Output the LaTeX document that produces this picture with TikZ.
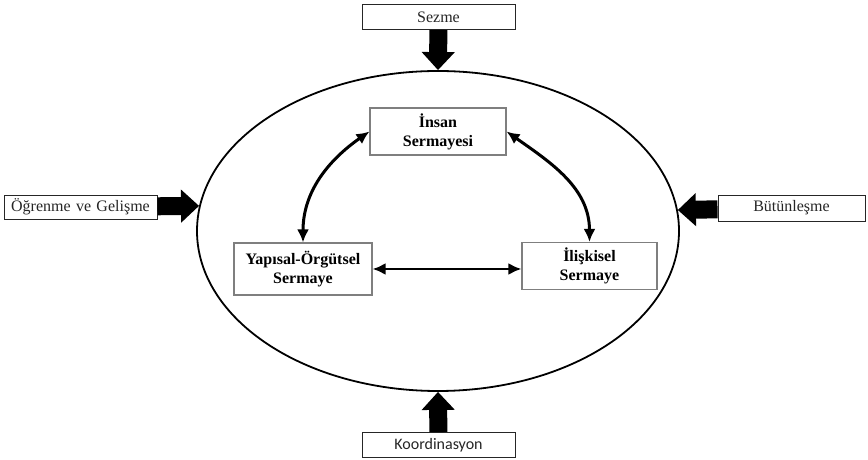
\documentclass[tikz,border=0pt]{standalone}
\usepackage{fontspec}
\setmainfont{Liberation Serif}
\newfontfamily\calibrifont{Carlito}
\usepackage{xcolor}
\usepackage{tikz}
\usetikzlibrary{arrows.meta,positioning,shapes.geometric}
\definecolor{icborder}{HTML}{7F7F7F}
\definecolor{icdark}{HTML}{262626}
\tikzset{
  factor/.style={draw=icdark,line width=0.9pt,fill=white,inner sep=0pt,minimum height=25pt,text width=150pt,align=center,font=\fontsize{16}{19}\selectfont,text=icdark},
  capital/.style={draw=icborder,line width=1.1pt,fill=white,inner sep=0pt,align=center,font=\fontsize{16}{19}\selectfont\bfseries,text=black},
  blockarr/.style={draw=black,line width=18pt,-{Triangle[length=18pt,width=32pt]}},
  link/.style={{Latex[length=13pt,width=12pt]}-{Latex[length=13pt,width=12pt]},line width=3pt,black},
}
\begin{document}
\begin{tikzpicture}[x=1pt,y=1pt]
  \useasboundingbox (0,0) rectangle (868,460);
  % outer ring
  \node[draw,ellipse,line width=1.8pt,minimum width=482pt,minimum height=320pt,inner sep=0pt] (ring) at (438,229) {};
  % factors round the ring
  \node[factor,text width=153pt] (sezme) at (438.5,443) {Sezme};
  \node[factor,text width=153pt,font=\fontsize{16}{19}\calibrifont] (koord) at (438.5,15) {Koordinasyon};
  \node[factor,text width=153pt,minimum height=24pt] (ogren) at (80.5,253) {Öğrenme ve Gelişme};
  \node[factor,text width=147pt,minimum height=26pt] (butun) at (791.5,252) {Bütünleşme};
  \draw[blockarr] (sezme) -- (ring.north);
  \draw[blockarr] (koord) -- (ring.south);
  \draw[blockarr] (ogren) -- (ring.174.5);
  \draw[blockarr] (butun) -- (ring.5.5);
  % capitals
  \node[capital,minimum width=136pt,minimum height=47pt] (insan) at (438,328.5) {İnsan\\Sermayesi};
  \node[capital,minimum width=138pt,minimum height=52pt] (yapisal) at (303,191) {Yapısal-Örgütsel\\Sermaye};
  \node[capital,minimum width=135pt,minimum height=47pt] (iliski) at (589.5,194) {İlişkisel\\Sermaye};
  \draw[link] (insan.west) to[out=215,in=90] (yapisal.north);
  \draw[link] (insan.east) to[out=-35,in=90] (iliski.north);
  \draw[link,line width=2.5pt] (yapisal.east) -- (yapisal.east -| iliski.west);
\end{tikzpicture}
\end{document}
